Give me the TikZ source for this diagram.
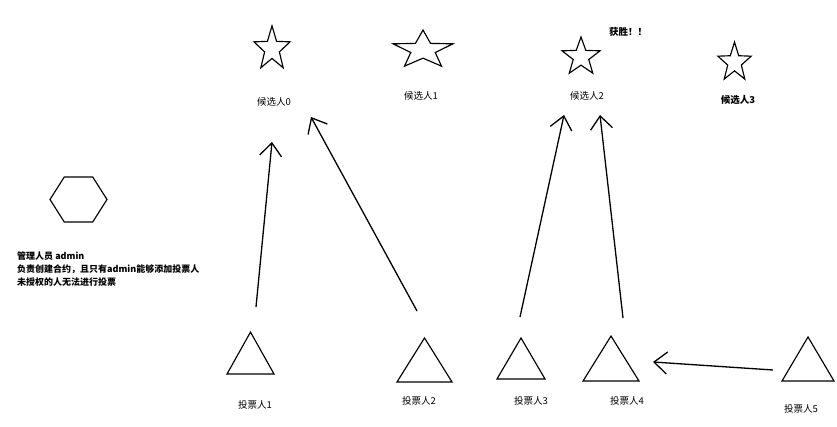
\documentclass[tikz,border=0pt]{standalone}
\usepackage{fontspec}
\setmainfont{Noto Sans CJK SC}
\usetikzlibrary{shapes.geometric,arrows.meta}
\begin{document}
\begin{tikzpicture}[x=1pt,y=-1pt,
  shp/.style={draw, line width=1.15pt, inner sep=0pt, transform shape},
  starnode/.style={shp, star, star points=5, star point ratio=2.45},
  tri/.style={shp, regular polygon, regular polygon sides=3},
  hexa/.style={shp, regular polygon, regular polygon sides=6},
  lbl/.style={font=\fontsize{9.5}{11}\selectfont, inner sep=0pt},
  blbl/.style={font=\fontsize{9.5}{11}\selectfont\bfseries, inner sep=0pt},
  vote/.style={line width=1.3pt, -{Straight Barb[length=13pt,width=22pt]}}
]
\useasboundingbox (0,0) rectangle (837,427);
\fill[white] (0,0) rectangle (837,427);

% admin
\begin{scope}[shift={(78.5,199.5)}, yscale=0.91]
  \node[hexa, minimum size=57pt] (admin) at (0,0) {};
\end{scope}
\node[anchor=north west, align=left, inner sep=0pt,
      font=\fontsize{9}{13.2}\selectfont\bfseries] (admintext) at (17,251.5)
  {管理人员 admin\\负责创建合约，且只有admin能够添加投票人\\未授权的人无法进行投票};

% candidates
\begin{scope}[shift={(272,49)}, yscale=1.22]
  \node[starnode, minimum size=38pt] (c0) at (0,0) {};
\end{scope}
\begin{scope}[shift={(423,50)}, xscale=1.575]
  \node[starnode, minimum size=40pt] (c1) at (0,0) {};
\end{scope}
\begin{scope}[shift={(581,57)}]
  \node[starnode, minimum size=40pt] (c2) at (0,0) {};
\end{scope}
\begin{scope}[shift={(734.5,62.5)}, yscale=1.17]
  \node[starnode, minimum size=35pt] (c3) at (0,0) {};
\end{scope}
\node[lbl] (lc0) at (274,102) {候选人0};
\node[lbl] (lc1) at (421,96) {候选人1};
\node[lbl] (lc2) at (587,96) {候选人2};
\node[blbl] (lc3) at (738,100) {候选人3};
\node[blbl] (win) at (628,32) {获胜！！};

% voters
\begin{scope}[shift={(250.5,360)}, yscale=1.03]
  \node[tri, minimum size=54.2pt] (v1) at (0,0) {};
\end{scope}
\begin{scope}[shift={(424.5,367.3)}, yscale=0.924]
  \node[tri, minimum size=63.5pt] (v2) at (0,0) {};
\end{scope}
\begin{scope}[shift={(521,365.3)}, yscale=0.986]
  \node[tri, minimum size=55.4pt] (v3) at (0,0) {};
\end{scope}
\begin{scope}[shift={(611,366)}, yscale=0.928]
  \node[tri, minimum size=64.6pt] (v4) at (0,0) {};
\end{scope}
\begin{scope}[shift={(808,366.3)}, yscale=0.978]
  \node[tri, minimum size=60pt] (v5) at (0,0) {};
\end{scope}
\node[lbl] (lv1) at (255,405) {投票人1};
\node[lbl] (lv2) at (419,401) {投票人2};
\node[lbl] (lv3) at (531,401) {投票人3};
\node[lbl] (lv4) at (627,401) {投票人4};
\node[lbl] (lv5) at (801,409) {投票人5};

% vote arrows
\coordinate (v1o) at (256,307);  \coordinate (c0i) at (272,142);
\coordinate (v2o) at (417,311);  \coordinate (c0j) at (311,117);
\coordinate (v3o) at (520,317);  \coordinate (c2i) at (564,115);
\coordinate (v4o) at (623,318);  \coordinate (c2j) at (600,115);
\coordinate (v5o) at (773,370);  \coordinate (v4i) at (653,362);
\draw[vote] (v1o) -- (c0i);
\draw[vote] (v2o) -- (c0j);
\draw[vote] (v3o) -- (c2i);
\draw[vote] (v4o) -- (c2j);
\draw[vote] (v5o) -- (v4i);
\end{tikzpicture}
\end{document}
